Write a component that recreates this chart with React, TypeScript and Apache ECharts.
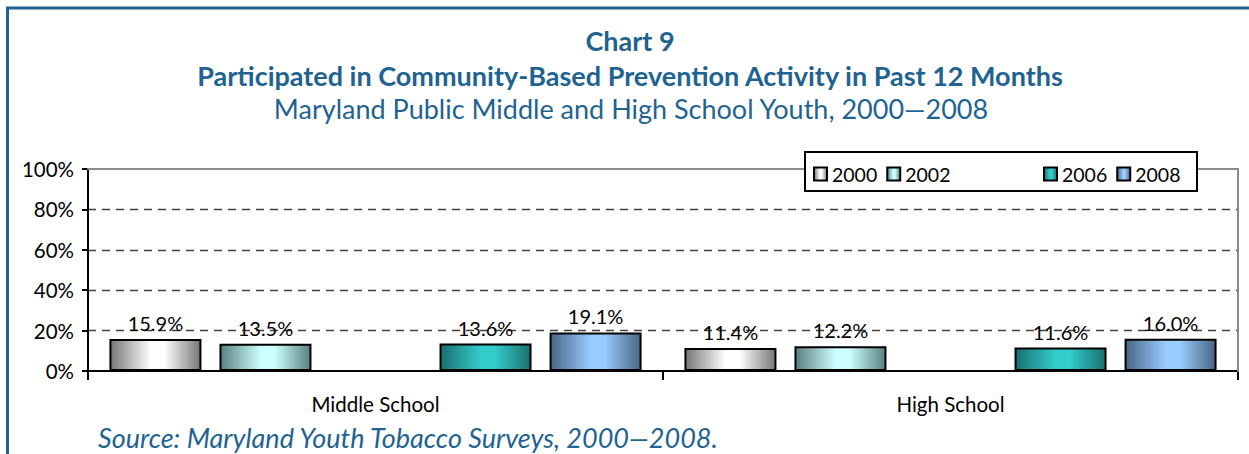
import React, { useEffect, useRef } from "react";
import * as echarts from "echarts";

// ---- data ----
const categories = ["Middle School", "High School"];
const seriesNames = ["2000", "2002", "2004", "2006", "2008"];
const values2000 = [15.9, 11.4];
const values2002 = [13.5, 12.2];
const values2004: (number | null)[] = [null, null]; // no 2004 survey shown (empty slot)
const values2006 = [13.6, 11.6];
const values2008 = [19.1, 16.0];
const legendLeft = ["2000", "2002"];
const legendRight = ["2006", "2008"];
const yMin = 0;
const yMax = 100;
const yStep = 20;

const titleLine1 = "Chart 9";
const titleLine2 = "Participated in Community-Based Prevention Activity in Past 12 Months";
const titleLine3 = "Maryland Public Middle and High School Youth, 2000\u20142008";
const sourceText = "Source: Maryland Youth Tobacco Surveys, 2000\u20142008.";

// ---- styles ----
const FONT = "Lato, 'Open Sans', sans-serif";
const BLUE = "#1F6391";
const gradients: Record<string, [string, string]> = {
  "2000": ["#767676", "#FFFFFF"],
  "2002": ["#5A8080", "#CCFFFF"],
  "2004": ["#ffffff", "#ffffff"],
  "2006": ["#19706E", "#33CCCC"],
  "2008": ["#4A6584", "#99CCFF"],
};

function grad(name: string) {
  const [dark, light] = gradients[name];
  return new echarts.graphic.LinearGradient(0, 0, 1, 0, [
    { offset: 0, color: dark },
    { offset: 0.45, color: light },
    { offset: 0.6, color: light },
    { offset: 1, color: dark },
  ]);
}

export default function App() {
  const ref = useRef<HTMLDivElement>(null);

  useEffect(() => {
    document.body.style.margin = "0";
    if (!ref.current) return;
    const chart = echarts.init(ref.current, undefined, { renderer: "svg" });
    const dataBySeries: Record<string, (number | null)[]> = {
      "2000": values2000,
      "2002": values2002,
      "2004": values2004,
      "2006": values2006,
      "2008": values2008,
    };

    const legendCommon = {
      top: 164,
      orient: "horizontal" as const,
      itemWidth: 13,
      itemHeight: 13,
      itemGap: 9,
      icon: "rect",
      z: 120,
      padding: 0,
      textStyle: { fontFamily: FONT, fontSize: 19.5, color: "#000", padding: [0, 0, 0, 0] },
      selectedMode: false,
    };

    chart.setOption({
      animation: false,
      textStyle: { fontFamily: FONT },
      grid: { left: 88, right: 11, top: 169, bottom: 83, containLabel: false },
      legend: [
        { ...legendCommon, left: 813, data: legendLeft },
        { ...legendCommon, left: 1043, data: legendRight },
      ],
      xAxis: [
        {
          type: "category",
          data: categories,
          axisLine: { show: true, lineStyle: { color: "#000", width: 2 } },
          axisTick: { show: true, length: 9, lineStyle: { color: "#000", width: 2 } },
          axisLabel: { fontFamily: FONT, fontSize: 20.5, color: "#000", margin: 22 },
          z: 3,
        },
        {
          type: "category",
          data: categories,
          position: "top",
          axisLine: { show: true, onZero: false, lineStyle: { color: "#8C8C8C", width: 2 } },
          axisTick: { show: false },
          axisLabel: { show: false },
          z: 10,
        },
      ],
      yAxis: [
        {
          type: "value",
          min: yMin,
          max: yMax,
          interval: yStep,
          axisLine: { show: true, lineStyle: { color: "#000", width: 2 } },
          axisTick: { show: true, length: 6, lineStyle: { color: "#000", width: 2 } },
          axisLabel: {
            fontFamily: FONT,
            fontSize: 20.5,
            color: "#000",
            margin: 14,
            formatter: "{value}%",
          },
          splitLine: {
            show: true,
            showMaxLine: false,
            showMinLine: false,
            lineStyle: { color: "#404040", width: 1.4, type: [8, 6] },
          },
          z: 1,
        },
        {
          type: "value",
          min: yMin,
          max: yMax,
          position: "right",
          axisLine: { show: true, onZero: false, lineStyle: { color: "#8C8C8C", width: 2 } },
          axisTick: { show: false },
          axisLabel: { show: false },
          splitLine: { show: false },
          z: 10,
        },
      ],
      series: seriesNames.map((name) => ({
        name,
        type: "bar",
        data: dataBySeries[name],
        barWidth: 92,
        barGap: "19.6%",
        z: 5,
        itemStyle: { color: grad(name), borderColor: "#000", borderWidth: 2 },
        label: {
          show: true,
          position: "top",
          distance: 6,
          fontFamily: FONT,
          fontSize: 20,
          color: "#000",
          formatter: (p: any) => (p.value == null ? "" : Number(p.value).toFixed(1) + "%"),
        },
      })),
      graphic: [
        { type: "line", z: 50, shape: { x1: 7.5, y1: 7, x2: 7.5, y2: 454 }, style: { stroke: BLUE, lineWidth: 3 } },
        { type: "line", z: 50, shape: { x1: 6, y1: 8, x2: 1249, y2: 8 }, style: { stroke: BLUE, lineWidth: 3 } },
        {
          type: "rect",
          z: 100,
          shape: { x: 805, y: 152, width: 392, height: 39 },
          style: { fill: "#fff", stroke: "#000", lineWidth: 2 },
        },
        {
          type: "text",
          z: 50,
          x: 630,
          y: 40,
          style: { text: titleLine1, fontFamily: FONT, fontWeight: "bold", fontSize: 27, fill: BLUE, textAlign: "center", textVerticalAlign: "middle" },
        },
        {
          type: "text",
          z: 50,
          x: 630,
          y: 75,
          style: { text: titleLine2, fontFamily: FONT, fontWeight: "bold", fontSize: 27, fill: BLUE, textAlign: "center", textVerticalAlign: "middle" },
        },
        {
          type: "text",
          z: 50,
          x: 631,
          y: 108,
          style: { text: titleLine3, fontFamily: FONT, fontSize: 27, fill: BLUE, textAlign: "center", textVerticalAlign: "middle" },
        },
        {
          type: "text",
          z: 50,
          x: 98,
          y: 437,
          style: { text: sourceText, fontFamily: FONT, fontStyle: "italic", fontSize: 27, fill: BLUE, textAlign: "left", textVerticalAlign: "middle" },
        },
      ],
    });

    return () => chart.dispose();
  }, []);

  return <div ref={ref} style={{ width: 1249, height: 454 }} />;
}
